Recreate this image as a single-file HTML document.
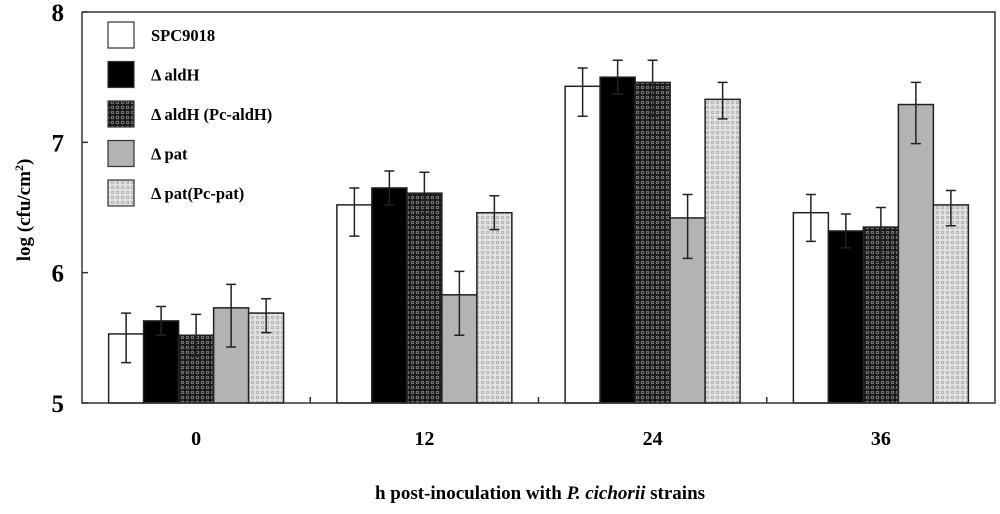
<!DOCTYPE html>
<html><head><meta charset="utf-8"><style>
body{margin:0;background:#fff}
svg text{font-family:"Liberation Serif",serif;font-weight:bold;fill:#000}
</style></head><body>
<svg id="chart" width="1000" height="509" viewBox="0 0 1000 509">
<defs>
<pattern id="pDark" width="5" height="5" patternUnits="userSpaceOnUse"><rect width="5" height="5" fill="#1a1a1a"/><circle cx="2.5" cy="2.5" r="1.3" fill="none" stroke="#999" stroke-width="0.7"/></pattern>
<pattern id="pLight" width="5" height="5" patternUnits="userSpaceOnUse"><rect width="5" height="5" fill="#e2e2e2"/><circle cx="2.5" cy="2.5" r="1.3" fill="none" stroke="#9a9a9a" stroke-width="0.6"/></pattern>
</defs>
<g id="plot"></g>
<text x="540" y="499" font-size="19" text-anchor="middle">h post-inoculation with <tspan font-style="italic">P. cichorii</tspan> strains</text>
<text transform="translate(30,210) rotate(-90)" font-size="19" text-anchor="middle">log (cfu/cm<tspan font-size="12" dy="-7">2</tspan><tspan dy="7">)</tspan></text>
</svg>
<script>
const categories=["0","12","24","36"];
const seriesNames=["SPC9018","Δ aldH","Δ aldH (Pc-aldH)","Δ pat","Δ pat(Pc-pat)"];
const spc=[5.53,6.52,7.43,6.46];
const aldH=[5.63,6.65,7.50,6.32];
const aldHc=[5.52,6.61,7.46,6.35];
const pat=[5.73,5.83,6.42,7.29];
const patc=[5.69,6.46,7.33,6.52];
const errHi=[[5.69,6.65,7.57,6.60],[5.74,6.78,7.63,6.45],[5.68,6.77,7.63,6.50],[5.91,6.01,6.60,7.46],[5.80,6.59,7.46,6.63]];
const errLo=[[5.31,6.28,7.20,6.24],[5.52,6.52,7.37,6.19],[5.36,6.45,7.20,6.08],[5.43,5.52,6.11,6.99],[5.54,6.33,7.18,6.36]];
const yTicks=[5,6,7,8];
const series=[spc,aldH,aldHc,pat,patc];
const fills=["#fff","#000","url(#pDark)","#b3b3b3","url(#pLight)"];
const L=82,R=995,T=12,B=403,yMin=5,yMax=8;
const y=v=>B-(v-yMin)/(yMax-yMin)*(B-T);
const gw=(R-L)/categories.length,bw=35;
const xc=i=>L+gw*(i+0.5);
const NS="http://www.w3.org/2000/svg";
const g=document.getElementById('plot');
function mk(t,a,p){const e=document.createElementNS(NS,t);for(const k in a)e.setAttribute(k,a[k]);(p||g).appendChild(e);return e;}
series.forEach((s,si)=>{s.forEach((v,ci)=>{
 const x=xc(ci)-2.5*bw+si*bw;
 const r=mk('rect',{x:x,y:y(v),width:bw,height:B-y(v),fill:fills[si],stroke:'#222','stroke-width':1.5});
 
 
 const cx=x+bw/2,h=y(errHi[si][ci]),l=y(errLo[si][ci]);
 const e=mk('path',{d:`M${cx},${h}V${l}M${cx-5},${h}H${cx+5}M${cx-5},${l}H${cx+5}`,stroke:'#222','stroke-width':1.5,fill:'none'});
 
 
});});
const ax=mk('path',{d:`M${L},${T}V${B}H${R}V${T}H${L}`,fill:'none',stroke:'#333','stroke-width':1.5});


yTicks.forEach(t=>{
 mk('line',{x1:L,x2:L+6,y1:y(t),y2:y(t),stroke:'#333','stroke-width':1.5});
 const tx=mk('text',{x:L-18,y:y(t)+9,'font-size':25,'text-anchor':'end'});tx.textContent=t;
 
 
});
for(let i=1;i<categories.length;i++)mk('line',{x1:L+gw*i,x2:L+gw*i,y1:B,y2:B-6,stroke:'#333','stroke-width':1.5});
categories.forEach((c,i)=>{const t=mk('text',{x:xc(i),y:445,'font-size':20,'text-anchor':'middle'});t.textContent=c;
 
 });
seriesNames.forEach((n,i)=>{const yy=22+i*39.5;
 const b=mk('rect',{x:108,y:yy,width:26,height:26,fill:fills[i],stroke:'#333','stroke-width':1.2});
 
 
 const t=mk('text',{x:151,y:yy+19,'font-size':16.5});t.textContent=n;
 
 
});
</script>
</body></html>
